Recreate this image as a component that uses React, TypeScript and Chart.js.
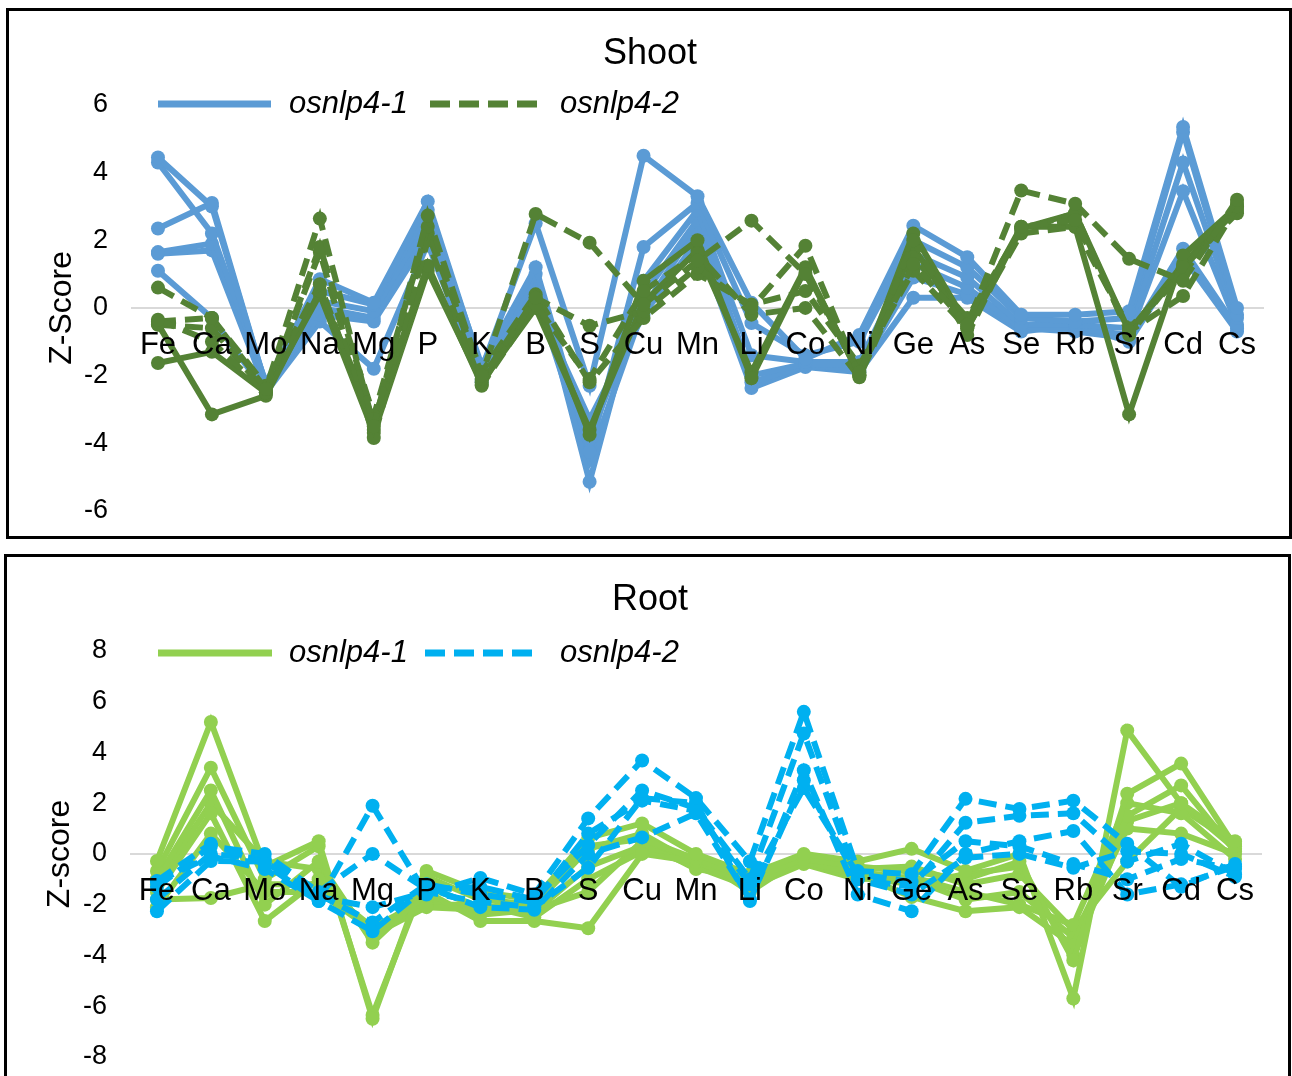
import React, { useEffect, useRef } from "react";
import { Chart, registerables } from "chart.js";

Chart.register(...registerables);

const FONT = '"Liberation Sans", Arial, sans-serif';

const elements = ["Fe", "Ca", "Mo", "Na", "Mg", "P", "K", "B", "S", "Cu", "Mn", "Li", "Co", "Ni", "Ge", "As", "Se", "Rb", "Sr", "Cd", "Cs"];

const shootTicks = { min: -6, max: 6, step: 2 };
const rootTicks = { min: -8, max: 8, step: 2 };

// Shoot, osnlp4-1 (blue, solid)
const shootA1 = [4.45, 3.0, -2.3, 0.85, 0.15, 3.15, -1.8, 2.5, -2.3, 4.5, 3.3, 0.15, -1.5, -0.8, 2.43, 1.5, -0.2, -0.2, -0.1, 5.35, 0.0];
const shootA2 = [4.3, 2.2, -2.2, 0.5, 0.1, 2.9, -1.7, 1.2, -4.25, 1.8, 3.1, -0.45, -1.4, -1.0, 2.0, 1.2, -0.3, -0.4, -0.3, 5.2, -0.2];
const shootA3 = [2.35, 3.1, -2.3, 0.2, -0.1, 2.6, -1.9, 1.0, -5.14, 0.8, 2.9, -1.4, -1.6, -1.6, 1.6, 0.9, -0.5, -0.5, -0.6, 4.3, -0.3];
const shootA4 = [1.65, 1.9, -2.4, 0.0, -0.3, 2.3, -2.0, 0.7, -3.9, 0.4, 2.6, -2.0, -1.65, -1.7, 1.3, 0.6, -0.6, -0.6, -0.8, 3.45, -0.5];
const shootA5 = [1.6, 1.7, -2.4, -0.2, -0.4, 2.1, -2.1, 0.4, -4.5, 0.0, 2.4, -2.2, -1.7, -1.8, 0.9, 0.4, -0.6, -0.7, -0.9, 1.75, -0.6];
const shootA6 = [1.1, -0.3, -2.5, -0.4, -1.8, 1.9, -2.2, 0.2, -3.3, -0.2, 2.0, -2.37, -1.75, -1.9, 0.3, 0.3, -0.7, -0.5, -1.0, 1.5, -0.7];

// Shoot, osnlp4-2 (dark green; dashed and solid replicates)
const shootB1 = [0.6, -0.3, -2.4, 2.64, -3.5, 2.73, -2.0, 2.78, 1.93, 0.1, 1.4, 2.58, 1.0, -1.9, 1.3, -0.5, 3.47, 3.08, 1.45, 0.8, 3.2];
const shootB2 = [-0.35, -1.0, -2.5, 1.8, -3.2, 2.4, -2.1, 0.3, -0.53, -0.1, 1.2, 0.0, 1.84, -2.0, 2.0, -0.8, 2.4, 2.6, -0.7, 0.35, 3.0];
const shootB3 = [-0.5, -0.6, -2.5, 1.65, -3.85, 2.0, -2.3, 0.1, -2.1, 0.5, 1.6, -0.2, 0.0, -2.05, 1.5, -0.3, 2.3, 2.8, -0.8, 1.2, 2.8];
const shootB4 = [-0.4, -0.3, -2.3, 0.7, -3.6, 2.2, -1.9, 0.4, -2.2, -0.3, 1.0, 0.1, 0.5, -1.7, 1.1, -0.6, 2.2, 2.4, -0.6, 1.0, 3.1];
const shootB5 = [-0.48, -3.15, -2.6, 0.5, -3.3, 1.25, -2.27, 0.3, -3.75, 0.8, 2.0, -2.08, 1.15, -1.97, 2.2, -0.5, 2.4, 2.4, -3.15, 1.55, 3.0];
const shootB6 = [-1.63, -1.3, -2.5, 0.4, -3.7, 1.1, -2.2, 0.0, -3.6, 0.15, 1.7, -1.9, 1.2, -2.0, 1.8, -0.6, 2.35, 2.8, -0.7, 1.3, 2.9];

// Root, osnlp4-1 (light green, solid)
const rootA1 = [-0.28, 5.2, -0.5, 0.5, -6.5, -0.67, -1.5, -1.8, 0.63, 1.2, 0.0, -0.8, 0.0, -0.3, 0.2, -0.67, 0.0, -5.7, 4.87, 2.0, 0.5];
const rootA2 = [-0.67, 3.4, -1.0, 0.3, -6.35, -0.9, -1.8, -2.0, 0.3, 0.6, -0.2, -1.0, -0.2, -0.5, -0.7, -1.0, -0.3, -4.2, 2.37, 3.56, 0.3];
const rootA3 = [-1.0, 2.5, -2.0, -0.3, -3.5, -1.5, -2.65, -2.65, -2.93, 0.0, -0.3, -1.2, -0.3, -0.8, -1.7, -2.26, -2.1, -3.6, 1.5, 2.7, 0.1];
const rootA4 = [-1.5, 1.6, -2.65, -1.0, -3.2, -2.1, -2.2, -2.3, -0.5, 0.3, -0.5, -1.3, -0.4, -1.0, -0.9, -1.5, -2.0, -2.8, 2.0, 1.6, -0.2];
const rootA5 = [-2.1, 0.8, -1.5, -1.5, -3.0, -2.0, -2.0, -2.5, -1.0, 0.1, -0.1, -1.5, -0.1, -0.7, -1.0, -1.8, -1.5, -3.3, 1.0, 0.8, 0.0];
const rootA6 = [-1.8, -1.74, -1.2, -1.2, -2.9, -1.8, -2.4, -2.2, -1.5, 0.5, -0.6, -0.9, -0.3, -0.9, -1.2, -0.8, -0.5, -4.0, 1.3, 2.0, 0.2];
const rootA7 = [-1.2, 2.0, -0.3, -0.6, -3.3, -1.3, -2.1, -2.0, 0.2, 0.8, -0.4, -1.1, -0.2, -0.6, -0.5, -1.2, -0.8, -3.0, -0.3, 1.8, 0.4];

// Root, osnlp4-2 (light blue, dashed)
const rootB1 = [-1.07, 0.4, -0.4, -1.86, 1.9, -1.6, -0.95, -1.6, 1.4, 3.68, 2.2, -0.3, 5.6, -0.67, -0.8, 2.17, 1.77, 2.1, 0.4, -1.3, -0.4];
const rootB2 = [-1.3, 0.3, 0.0, -1.5, 0.0, -1.4, -1.3, -1.8, 0.35, 2.5, 1.8, -1.0, 4.75, -1.0, -1.3, 1.23, 1.5, 1.6, -0.3, 0.4, -0.8];
const rootB3 = [-2.26, -0.28, -0.3, -1.7, -2.1, -1.5, -1.9, -2.1, -0.55, 2.2, 2.0, -1.86, 3.3, -1.6, -2.26, 0.0, 0.5, 0.9, -1.6, -1.2, -0.5];
const rootB4 = [-1.1, -0.1, -0.6, -1.86, -3.05, -1.3, -2.1, -2.2, 0.0, 0.65, 1.6, -1.8, 2.9, -1.0, -1.6, -0.15, 0.0, -0.55, 0.1, 0.0, -0.9];
const rootB5 = [-1.8, 0.0, -0.2, -1.6, -2.7, -1.2, -1.6, -1.9, 0.8, 2.1, 1.7, -1.2, 2.6, -0.8, -1.1, 0.5, 0.3, -0.4, -1.0, -0.2, -0.6];

const SHOOT_BLUE = "#5B9BD5";
const SHOOT_GREEN = "#548235";
const ROOT_GREEN = "#92D050";
const ROOT_BLUE = "#00B0F0";
const DASH = [18, 9];

function lineSet(label: string, data: number[], color: string, dashed: boolean) {
  return {
    label,
    data,
    borderColor: color,
    backgroundColor: color,
    pointBackgroundColor: color,
    pointBorderColor: color,
    borderWidth: 6,
    borderDash: dashed ? DASH : [],
    pointRadius: 7,
    pointHoverRadius: 7,
    pointBorderWidth: 0,
    tension: 0,
    fill: false,
  };
}

const headerPlugin = {
  id: "header",
  afterDraw(chart: any, _args: any, opts: any) {
    const ctx = chart.ctx;
    ctx.save();
    ctx.fillStyle = "#000";
    ctx.textBaseline = "middle";
    ctx.textAlign = "center";
    ctx.font = `36px ${FONT}`;
    ctx.fillText(opts.title, opts.titleX, opts.titleY);
    for (const it of opts.items) {
      ctx.strokeStyle = it.color;
      ctx.lineWidth = 7;
      ctx.lineCap = "butt";
      ctx.setLineDash(it.dashed ? [20, 9] : []);
      ctx.beginPath();
      ctx.moveTo(it.x0, opts.legendY);
      ctx.lineTo(it.x1, opts.legendY);
      ctx.stroke();
      ctx.setLineDash([]);
      ctx.font = `italic 31px ${FONT}`;
      ctx.textAlign = "left";
      ctx.fillStyle = "#000";
      ctx.fillText(it.text, it.tx, opts.legendY);
    }
    ctx.restore();
  },
};

type PanelProps = {
  width: number;
  height: number;
  datasets: any[];
  ticks: { min: number; max: number; step: number };
  yTitle: string;
  header: any;
  padding: any;
};

function LineChart({ width, height, datasets, ticks, yTitle, header, padding }: PanelProps) {
  const ref = useRef<HTMLCanvasElement | null>(null);
  useEffect(() => {
    if (!ref.current) return;
    const chart = new Chart(ref.current, {
      type: "line",
      data: { labels: elements, datasets },
      plugins: [headerPlugin],
      options: {
        responsive: false,
        animation: false,
        events: [],
        layout: { padding: { top: padding.top, bottom: padding.bottom, left: 0, right: padding.right } },
        plugins: {
          legend: { display: false },
          title: { display: false },
          tooltip: { enabled: false },
          header,
        } as any,
        scales: {
          x: {
            type: "category",
            offset: true,
            position: { y: 0 } as any,
            grid: { display: false, drawTicks: false },
            border: { display: false },
            ticks: {
              z: 1,
              autoSkip: false,
              maxRotation: 0,
              minRotation: 0,
              padding: 19,
              color: "#000",
              font: { family: FONT, size: 31 },
            },
          },
          y: {
            min: ticks.min,
            max: ticks.max,
            afterFit: (scale: any) => {
              scale.width = padding.axisWidth;
            },
            grid: {
              drawTicks: false,
              lineWidth: 2,
              color: (c: any) => (c.tick && c.tick.value === 0 ? "#D9D9D9" : "rgba(0,0,0,0)"),
            },
            border: { display: false },
            ticks: {
              stepSize: ticks.step,
              padding: 23,
              color: "#000",
              font: { family: FONT, size: 27 },
            },
            title: {
              display: true,
              text: yTitle,
              color: "#000",
              font: { family: FONT, size: 32 },
              padding: { top: 34, bottom: 0 },
            },
          },
        },
      } as any,
    });
    return () => chart.destroy();
  }, []);
  return <canvas ref={ref} width={width} height={height} style={{ display: "block", width, height }} />;
}

export default function App() {
  const shootSets = [
    lineSet("osnlp4-2", shootB1, SHOOT_GREEN, true),
    lineSet("osnlp4-2", shootB2, SHOOT_GREEN, true),
    lineSet("osnlp4-2", shootB3, SHOOT_GREEN, true),
    lineSet("osnlp4-2", shootB4, SHOOT_GREEN, true),
    lineSet("osnlp4-2", shootB5, SHOOT_GREEN, false),
    lineSet("osnlp4-2", shootB6, SHOOT_GREEN, false),
    lineSet("osnlp4-1", shootA1, SHOOT_BLUE, false),
    lineSet("osnlp4-1", shootA2, SHOOT_BLUE, false),
    lineSet("osnlp4-1", shootA3, SHOOT_BLUE, false),
    lineSet("osnlp4-1", shootA4, SHOOT_BLUE, false),
    lineSet("osnlp4-1", shootA5, SHOOT_BLUE, false),
    lineSet("osnlp4-1", shootA6, SHOOT_BLUE, false),
  ];
  const rootSets = [
    lineSet("osnlp4-2", rootB1, ROOT_BLUE, true),
    lineSet("osnlp4-2", rootB2, ROOT_BLUE, true),
    lineSet("osnlp4-2", rootB3, ROOT_BLUE, true),
    lineSet("osnlp4-2", rootB4, ROOT_BLUE, true),
    lineSet("osnlp4-2", rootB5, ROOT_BLUE, true),
    lineSet("osnlp4-1", rootA1, ROOT_GREEN, false),
    lineSet("osnlp4-1", rootA2, ROOT_GREEN, false),
    lineSet("osnlp4-1", rootA3, ROOT_GREEN, false),
    lineSet("osnlp4-1", rootA4, ROOT_GREEN, false),
    lineSet("osnlp4-1", rootA5, ROOT_GREEN, false),
    lineSet("osnlp4-1", rootA6, ROOT_GREEN, false),
    lineSet("osnlp4-1", rootA7, ROOT_GREEN, false),
  ];

  const shootHeader = {
    title: "Shoot",
    titleX: 641,
    titleY: 43,
    legendY: 93,
    items: [
      { color: SHOOT_BLUE, dashed: false, x0: 149, x1: 262, tx: 280, text: "osnlp4-1" },
      { color: SHOOT_GREEN, dashed: true, x0: 421, x1: 534, tx: 551, text: "osnlp4-2" },
    ],
  };
  const rootHeader = {
    title: "Root",
    titleX: 643,
    titleY: 43,
    legendY: 96,
    items: [
      { color: ROOT_GREEN, dashed: false, x0: 151, x1: 265, tx: 282, text: "osnlp4-1" },
      { color: ROOT_BLUE, dashed: true, x0: 418, x1: 533, tx: 553, text: "osnlp4-2" },
    ],
  };

  const panel = (left: number, top: number, w: number, h: number): React.CSSProperties => ({
    position: "absolute",
    left,
    top,
    width: w,
    height: h,
    border: "3px solid #000",
    boxSizing: "border-box",
    background: "#fff",
    overflow: "hidden",
  });

  return (
    <div style={{ position: "fixed", left: 0, top: 0, width: 1292, height: 1076, overflow: "hidden", background: "#fff" }}>
      <div style={panel(6, 8, 1286, 531)}>
        <LineChart
          width={1280}
          height={539}
          datasets={shootSets}
          ticks={shootTicks}
          yTitle="Z-Score"
          header={shootHeader}
          padding={{ top: 94, bottom: 0, right: 25, axisWidth: 122 }}
        />
      </div>
      <div style={panel(4, 554, 1287, 540)}>
        <LineChart
          width={1281}
          height={539}
          datasets={rootSets}
          ticks={rootTicks}
          yTitle="Z-score"
          header={rootHeader}
          padding={{ top: 94, bottom: 0, right: 26, axisWidth: 123 }}
        />
      </div>
    </div>
  );
}
